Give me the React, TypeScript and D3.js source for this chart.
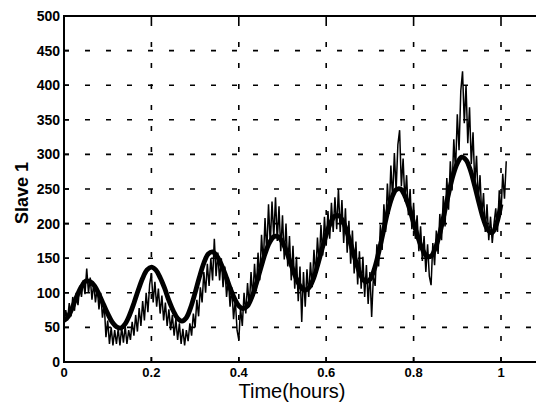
import React, { useEffect, useRef } from 'react';
import * as d3 from 'd3';

// model output, sampled every 0.01 h
const modelStep = 0.01;
const modelValues = [
  60, 66, 80, 96, 109, 117, 116, 110, 98, 84,
  70, 58, 51, 49, 55, 68, 85, 104, 121, 133,
  137, 133, 122, 107, 89, 74, 63, 59, 64, 79,
  100, 123, 143, 156, 159, 153, 141, 125, 107, 92,
  81, 77, 81, 94, 113, 135, 156, 172, 181, 181,
  173, 158, 140, 123, 110, 104, 107, 119, 139, 162,
  184, 201, 211, 211, 201, 183, 162, 141, 124, 116,
  119, 134, 158, 186, 215, 237, 249, 250, 240, 223,
  201, 180, 163, 153, 153, 165, 186, 214, 243, 269,
  287, 296, 292, 277, 254, 229, 206, 191, 187, 200,
  228,
];

// measured load, sampled every 0.004 h
const measuredStep = 0.004;
const measuredValues = [
  55, 75, 60, 85, 66, 94, 74, 100, 82, 110,
  94, 118, 98, 135, 100, 122, 90, 114, 86, 108,
  76, 100, 64, 84, 36, 60, 26, 50, 24, 46,
  26, 48, 24, 50, 28, 52, 26, 46, 32, 58,
  38, 68, 44, 78, 52, 88, 60, 100, 72, 112,
  128, 86, 116, 80, 106, 70, 96, 60, 86, 52,
  76, 46, 68, 38, 62, 32, 56, 26, 48, 24,
  46, 30, 56, 38, 70, 50, 90, 66, 108, 86,
  130, 100, 142, 110, 150, 118, 178, 124, 158, 118,
  150, 108, 138, 94, 122, 80, 108, 62, 90, 46,
  32, 78, 52, 100, 70, 114, 80, 130, 92, 142,
  102, 158, 118, 184, 140, 208, 158, 228, 170, 232,
  180, 238, 175, 225, 160, 212, 148, 200, 138, 182,
  118, 168, 106, 152, 88, 138, 58, 130, 80, 134,
  94, 144, 108, 162, 124, 180, 140, 198, 154, 210,
  168, 218, 178, 230, 188, 238, 192, 250, 188, 234,
  172, 222, 158, 204, 142, 190, 128, 174, 112, 160,
  106, 152, 94, 140, 84, 130, 65, 124, 110, 170,
  138, 198, 162, 228, 188, 258, 214, 284, 236, 302,
  248, 314, 335, 254, 294, 232, 270, 212, 250, 192,
  230, 178, 212, 160, 196, 146, 182, 130, 170, 124,
  111, 172, 140, 190, 156, 214, 176, 240, 196, 266,
  220, 290, 248, 322, 276, 358, 306, 392, 420, 345,
  400, 316, 368, 286, 332, 256, 298, 232, 270, 210,
  244, 188, 228, 176, 210, 172, 200, 222, 188, 248,
  215, 272, 236, 290,
];

const xTicks = [0, 0.2, 0.4, 0.6, 0.8, 1];
const yTicks = [0, 50, 100, 150, 200, 250, 300, 350, 400, 450, 500];

const App = () => {
  const svgRef = useRef<SVGSVGElement>(null);

  useEffect(() => {
    const width = 536, height = 403;
    const margin = { top: 16, right: -8, bottom: 41, left: 64 };

    const svg = d3.select(svgRef.current);
    svg.selectAll('*').remove();
    svg.attr('width', width).attr('height', height);

    const x = d3.scaleLinear()
      .domain([0, 1])
      .range([margin.left, margin.left + 437]);
    const y = d3.scaleLinear()
      .domain([0, 500])
      .range([height - margin.bottom, margin.top]);

    const x0 = margin.left, x1 = width - margin.right;
    const y0 = y(0), y1 = y(500);

    svg.append('defs').append('clipPath').attr('id', 'plot')
      .append('rect')
      .attr('x', x0).attr('y', y1)
      .attr('width', x1 - x0).attr('height', y0 - y1);

    // dashed grid
    const grid = svg.append('g')
      .attr('stroke', '#000')
      .attr('stroke-width', 1.6)
      .attr('stroke-dasharray', '5,16');
    grid.selectAll('line.h')
      .data(yTicks.filter(d => d > 0 && d < 500))
      .join('line')
      .attr('class', 'h')
      .attr('x1', x0).attr('x2', x1)
      .attr('y1', d => y(d)).attr('y2', d => y(d));
    grid.selectAll('line.v')
      .data(xTicks.filter(d => d > 0))
      .join('line')
      .attr('class', 'v')
      .attr('x1', d => x(d)).attr('x2', d => x(d))
      .attr('y1', y0).attr('y2', y1);

    const plot = svg.append('g').attr('clip-path', 'url(#plot)');

    const measuredLine = d3.line<number>()
      .x((_, i) => x(i * measuredStep))
      .y(d => y(d));
    plot.append('path')
      .datum(measuredValues)
      .attr('d', measuredLine)
      .attr('fill', 'none')
      .attr('stroke', '#000')
      .attr('stroke-width', 1.5)
      .attr('stroke-linejoin', 'miter');

    const modelLine = d3.line<number>()
      .x((_, i) => x(i * modelStep))
      .y(d => y(d))
      .curve(d3.curveCatmullRom);
    plot.append('path')
      .datum(modelValues)
      .attr('d', modelLine)
      .attr('fill', 'none')
      .attr('stroke', '#000')
      .attr('stroke-width', 4.8)
      .attr('stroke-linejoin', 'round');

    // frame: left, bottom and top
    const frame = svg.append('g').attr('stroke', '#000').attr('stroke-width', 2).attr('fill', 'none');
    frame.append('line').attr('x1', x0).attr('x2', x0).attr('y1', y0 + 1).attr('y2', y1 - 1);
    frame.append('line').attr('x1', x0).attr('x2', x1).attr('y1', y0).attr('y2', y0);
    frame.append('line').attr('x1', x0).attr('x2', x1).attr('y1', y1).attr('y2', y1);

    // inward ticks
    const ticks = svg.append('g').attr('stroke', '#000').attr('stroke-width', 1.6);
    ticks.selectAll('line.b')
      .data(xTicks)
      .join('line')
      .attr('class', 'b')
      .attr('x1', d => x(d)).attr('x2', d => x(d))
      .attr('y1', y0).attr('y2', y0 - 5);
    ticks.selectAll('line.t')
      .data(xTicks)
      .join('line')
      .attr('class', 't')
      .attr('x1', d => x(d)).attr('x2', d => x(d))
      .attr('y1', y1).attr('y2', y1 + 5);
    ticks.selectAll('line.l')
      .data(yTicks)
      .join('line')
      .attr('class', 'l')
      .attr('x1', x0).attr('x2', x0 + 5)
      .attr('y1', d => y(d)).attr('y2', d => y(d));

    const font = 'Liberation Sans, Arial, Helvetica, sans-serif';

    svg.append('g')
      .selectAll('text')
      .data(yTicks)
      .join('text')
      .attr('x', x0 - 4)
      .attr('y', d => y(d) + 5)
      .attr('text-anchor', 'end')
      .attr('font-family', font)
      .attr('font-size', 14)
      .attr('font-weight', 'bold')
      .text(d => d3.format('d')(d));

    svg.append('g')
      .selectAll('text')
      .data(xTicks)
      .join('text')
      .attr('x', d => x(d))
      .attr('y', y0 + 15)
      .attr('text-anchor', 'middle')
      .attr('font-family', font)
      .attr('font-size', 13)
      .attr('font-weight', 'bold')
      .text(d => (d === 0 || d === 1 ? String(d) : d3.format('.1f')(d)));

    svg.append('text')
      .attr('x', 292)
      .attr('y', 398)
      .attr('text-anchor', 'middle')
      .attr('font-family', font)
      .attr('font-size', 20)
      .text('Time(hours)');

    svg.append('text')
      .attr('transform', `translate(28,${(y0 + y1) / 2 + 4}) rotate(-90)`)
      .attr('text-anchor', 'middle')
      .attr('font-family', font)
      .attr('font-size', 18)
      .attr('font-weight', 'bold')
      .text('Slave 1');
  }, []);

  return (
    <svg
      ref={svgRef}
      style={{ position: 'absolute', left: 0, top: 0, display: 'block', background: '#fff' }}
    ></svg>
  );
};

export default App;
